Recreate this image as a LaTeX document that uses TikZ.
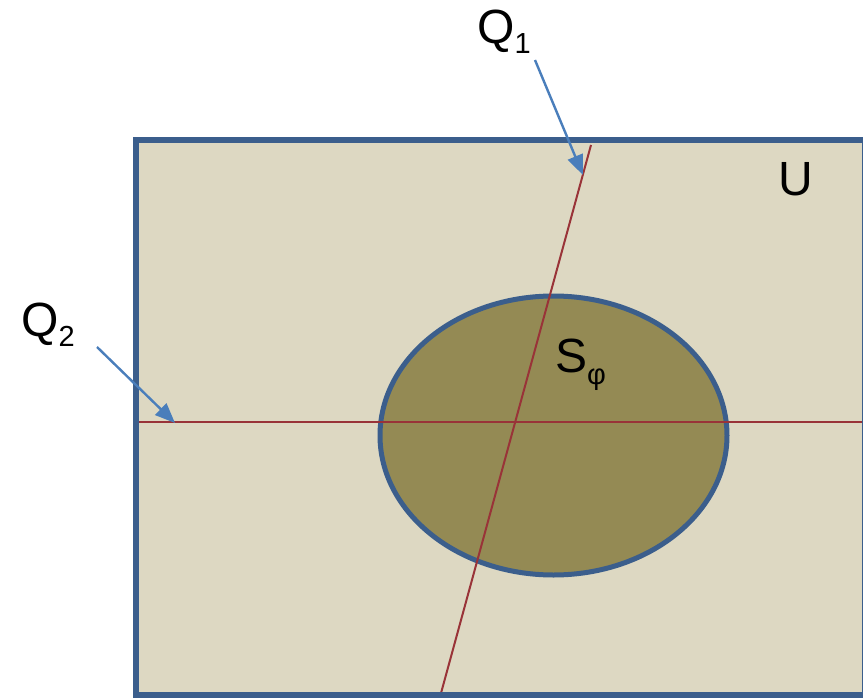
\documentclass[tikz,border=0pt]{standalone}
\usepackage{fontspec}
\setmainfont{Liberation Sans}
\usetikzlibrary{arrows.meta}
\definecolor{beige}{HTML}{DDD8C2}
\definecolor{olive}{HTML}{948A54}
\definecolor{frameblue}{HTML}{3B5E8C}
\definecolor{linered}{HTML}{993338}
\definecolor{arrowblue}{HTML}{4A7EBB}
\tikzset{
  lbl/.style={inner sep=0pt, anchor=base west, font=\fontsize{48}{48}\selectfont},
  redline/.style={draw=linered, line width=2pt},
  pointer/.style={draw=arrowblue, line width=2.4pt, -{Triangle[length=20pt,width=16pt]}},
}
\newcommand{\mysub}[2]{\raisebox{#1}{\fontsize{29}{29}\selectfont #2}}
\begin{document}
\begin{tikzpicture}[x=1pt,y=-1pt]
\useasboundingbox (0,0) rectangle (863,699);
% universe
\path[fill=beige] (136,140) rectangle (865,695);
% set S
\draw[fill=olive, draw=frameblue, line width=5pt] (553.5,435.5) ellipse [x radius=173.5, y radius=139.5];
% lines
\coordinate (q1top) at (591,145);
\coordinate (q1bot) at (440.5,695);
\coordinate (q2left) at (136,422);
\coordinate (q2right) at (866,422);
\draw[redline] (q1top) -- (q1bot);
\draw[redline] (q2left) -- (q2right);
% frame
\draw[frameblue, line width=6pt] (136,140) rectangle (865,695);
% labels
\node[lbl] (Q1) at (477,43) {Q\mysub{-10pt}{1}};
\node[lbl] (Q2) at (21,336) {Q\mysub{-10pt}{2}};
\node[lbl] (S) at (555,372) {S\mysub{-12pt}{φ}};
\node[lbl] (U) at (778,195) {U};
% pointers
\coordinate (a1s) at (535,60);
\coordinate (a1e) at (583,175);
\coordinate (a2s) at (97,347);
\coordinate (a2e) at (175,423);
\draw[pointer] (a1s) -- (a1e);
\draw[pointer] (a2s) -- (a2e);
\end{tikzpicture}
\end{document}
